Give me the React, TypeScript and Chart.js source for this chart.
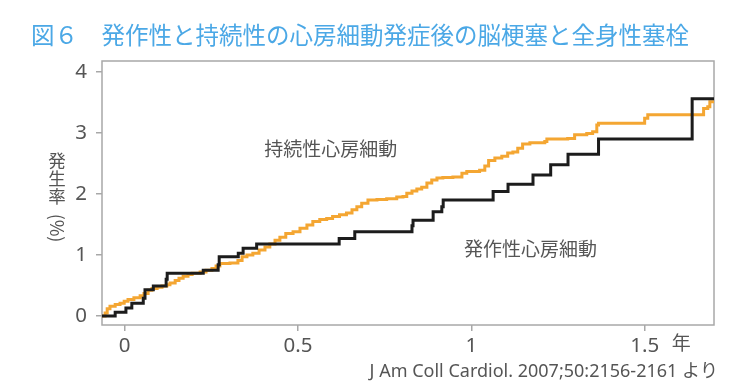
import React, { useEffect, useRef } from "react";
import { Chart, registerables } from "chart.js";

Chart.register(...registerables);

const TITLE = "図６　発作性と持続性の心房細動発症後の脳梗塞と全身性塞栓";
const Y_TITLE_CHARS = ["発", "生", "率"];
const Y_TITLE_PAREN = "(%)";
const X_UNIT = "年";
const SOURCE = "J Am Coll Cardiol. 2007;50:2156-2161 より";
const LABEL_PERSISTENT = "持続性心房細動";
const LABEL_PAROXYSMAL = "発作性心房細動";

const xTicks = [0, 0.5, 1, 1.5];
const yTicks = [0, 1, 2, 3, 4];

// 発作性心房細動 (paroxysmal AF)
const paroxysmalX = [-0.065, -0.027, 0.004, 0.021, 0.054, 0.059, 0.083, 0.12, 0.123, 0.227, 0.27, 0.273, 0.328, 0.342, 0.381, 0.619, 0.664, 0.829, 0.832, 0.89, 0.915, 0.919, 1.063, 1.106, 1.178, 1.229, 1.279, 1.367, 1.637, 1.7];
const paroxysmalY = [0, 0.06, 0.13, 0.21, 0.29, 0.43, 0.49, 0.6, 0.7, 0.75, 0.84, 0.97, 1.03, 1.11, 1.18, 1.27, 1.38, 1.48, 1.57, 1.71, 1.79, 1.9, 2.04, 2.16, 2.31, 2.48, 2.65, 2.9, 3.56, 3.56];

// 持続性心房細動 (persistent AF)
const persistentX = [-0.065, -0.056, -0.05, -0.042, -0.027, -0.013, -0.001, 0.01, 0.027, 0.045, 0.056, 0.068, 0.079, 0.094, 0.108, 0.122, 0.131, 0.146, 0.157, 0.169, 0.183, 0.195, 0.218, 0.235, 0.252, 0.264, 0.275, 0.304, 0.327, 0.339, 0.353, 0.37, 0.388, 0.405, 0.419, 0.434, 0.448, 0.465, 0.486, 0.506, 0.526, 0.543, 0.563, 0.583, 0.6, 0.62, 0.64, 0.656, 0.67, 0.684, 0.702, 0.728, 0.756, 0.785, 0.803, 0.814, 0.829, 0.843, 0.857, 0.872, 0.886, 0.901, 0.918, 0.947, 0.973, 0.987, 1.024, 1.039, 1.05, 1.068, 1.088, 1.105, 1.12, 1.134, 1.148, 1.169, 1.212, 1.218, 1.278, 1.298, 1.333, 1.35, 1.362, 1.367, 1.494, 1.5, 1.509, 1.667, 1.67, 1.682, 1.688, 1.7];
const persistentY = [0, 0.05, 0.12, 0.16, 0.19, 0.21, 0.24, 0.27, 0.3, 0.33, 0.37, 0.42, 0.45, 0.47, 0.49, 0.51, 0.54, 0.58, 0.62, 0.65, 0.68, 0.7, 0.72, 0.75, 0.78, 0.82, 0.86, 0.87, 0.91, 0.97, 1.0, 1.03, 1.08, 1.13, 1.18, 1.24, 1.29, 1.35, 1.38, 1.44, 1.49, 1.55, 1.58, 1.6, 1.63, 1.66, 1.69, 1.74, 1.79, 1.85, 1.9, 1.91, 1.92, 1.95, 1.96, 2.01, 2.05, 2.08, 2.11, 2.18, 2.23, 2.26, 2.27, 2.28, 2.34, 2.37, 2.39, 2.46, 2.55, 2.59, 2.62, 2.67, 2.69, 2.75, 2.82, 2.84, 2.86, 2.9, 2.91, 2.97, 2.99, 3.02, 3.13, 3.16, 3.16, 3.24, 3.3, 3.3, 3.4, 3.43, 3.51, 3.51];

const FONT = "'Noto Sans', 'Noto Sans CJK JP', sans-serif";
const CJK = "'Noto Sans CJK JP', 'Noto Sans', sans-serif";
const TEXT = "#555555";
const AXIS = "#a8a8a8";

const decor = {
  id: "decor",
  beforeDatasetsDraw(chart: any) {
    const { ctx, chartArea: a } = chart;
    ctx.save();
    ctx.strokeStyle = AXIS;
    ctx.lineWidth = 1.5;
    ctx.strokeRect(a.left, a.top, a.right - a.left, a.bottom - a.top);
    ctx.restore();
  },
  afterDraw(chart: any) {
    const { ctx, scales } = chart;
    const x = scales.x;
    const y = scales.y;
    ctx.save();
    // title
    ctx.fillStyle = "#4ba8e6";
    ctx.font = `23.5px ${CJK}`;
    ctx.textBaseline = "middle";
    ctx.textAlign = "left";
    ctx.fillText(TITLE, 31, 35);

    // y title (vertical)
    ctx.fillStyle = TEXT;
    ctx.font = `17.5px ${CJK}`;
    ctx.textAlign = "center";
    let cy = 160;
    for (const ch of Y_TITLE_CHARS) {
      ctx.fillText(ch, 57, cy);
      cy += 18;
    }
    ctx.save();
    ctx.translate(57, 228);
    ctx.rotate(Math.PI / 2);
    ctx.font = `18px ${CJK}`;
    ctx.fillText(Y_TITLE_PAREN, 0, 0);
    ctx.restore();

    // unit
    ctx.font = `19px ${CJK}`;
    ctx.textAlign = "left";
    ctx.fillText(X_UNIT, x.getPixelForValue(1.5) + 27, 343);

    // series labels
    ctx.font = `19px ${CJK}`;
    ctx.textAlign = "center";
    ctx.fillText(LABEL_PERSISTENT, x.getPixelForValue(0.595), y.getPixelForValue(2.74));
    ctx.fillText(LABEL_PAROXYSMAL, x.getPixelForValue(1.171), y.getPixelForValue(1.1));

    // source
    ctx.font = `18px ${FONT}`;
    ctx.textAlign = "right";
    ctx.fillText(SOURCE, 718, 372);
    ctx.restore();
  },
};

export default function App() {
  const ref = useRef<HTMLCanvasElement | null>(null);
  useEffect(() => {
    if (!ref.current) return;
    const chart = new Chart(ref.current, {
      type: "line",
      data: {
        datasets: [
          {
            label: LABEL_PAROXYSMAL,
            data: paroxysmalX.map((v, i) => ({ x: v, y: paroxysmalY[i] })),
            borderColor: "#1c1c1c",
            borderWidth: 3,
            stepped: "before",
            pointRadius: 0,
            fill: false,
          },
          {
            label: LABEL_PERSISTENT,
            data: persistentX.map((v, i) => ({ x: v, y: persistentY[i] })),
            borderColor: "#f4a632",
            borderWidth: 3,
            stepped: "before",
            pointRadius: 0,
            fill: false,
          },
        ],
      },
      options: {
        responsive: false,
        animation: false,
        devicePixelRatio: 1,
        layout: { padding: { left: 0, right: 39, top: 61, bottom: 0 } },
        plugins: { legend: { display: false }, tooltip: { enabled: false } },
        scales: {
          x: {
            type: "linear",
            min: -0.065,
            max: 1.7,
            afterBuildTicks: (s: any) => {
              s.ticks = xTicks.map((v) => ({ value: v }));
            },
            afterFit: (s: any) => {
              s.height = 67;
            },
            border: { display: false },
            grid: { drawOnChartArea: false, tickLength: 6, color: AXIS, lineWidth: 1.5 },
            ticks: {
              autoSkip: false,
              maxRotation: 0,
              padding: 3,
              color: TEXT,
              font: { family: FONT, size: 20.5 },
              callback: (v: any) => String(v),
            },
          },
          y: {
            type: "linear",
            min: -0.148,
            max: 4.18,
            afterBuildTicks: (s: any) => {
              s.ticks = yTicks.map((v) => ({ value: v }));
            },
            afterFit: (s: any) => {
              s.width = 102;
            },
            border: { display: false },
            grid: { drawOnChartArea: false, tickLength: 6, color: AXIS, lineWidth: 1.5 },
            ticks: {
              padding: 9,
              color: TEXT,
              font: { family: FONT, size: 20.5 },
              callback: (v: any) => String(v),
            },
          },
        },
      },
      plugins: [decor],
    });
    return () => chart.destroy();
  }, []);
  return (
    <div style={{ position: "absolute", left: 0, top: 0, width: 753, height: 392, background: "#fff" }}>
      <canvas ref={ref} width={753} height={392} />
    </div>
  );
}
